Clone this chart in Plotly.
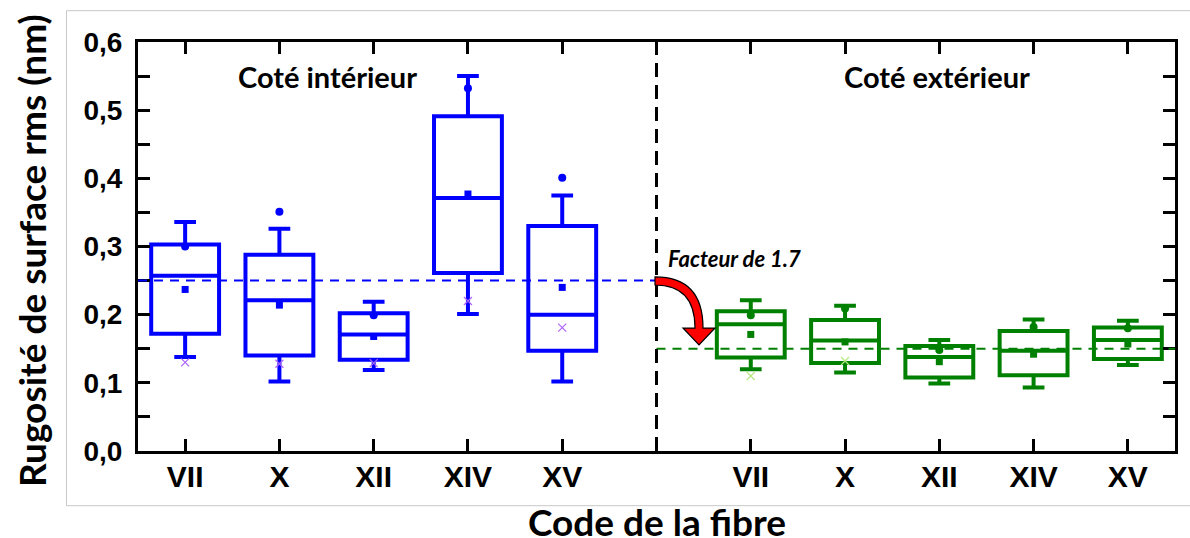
import plotly.graph_objects as go

# ---------------- data ----------------
categories = ["VII", "X", "XII", "XIV", "XV"]

int_q1 = [0.172, 0.140, 0.134, 0.261, 0.147]
int_median = [0.257, 0.221, 0.171, 0.371, 0.200]
int_q3 = [0.303, 0.288, 0.202, 0.491, 0.330]
int_low = [0.138, 0.102, 0.119, 0.201, 0.102]
int_high = [0.336, 0.326, 0.219, 0.550, 0.375]
int_mean = [0.237, 0.214, 0.168, 0.377, 0.240]
int_dot = [0.300, 0.351, 0.199, 0.532, 0.401]
int_cross = [0.130, 0.128, 0.129, 0.220, 0.181]

ext_q1 = [0.137, 0.129, 0.108, 0.111, 0.135]
ext_median = [0.186, 0.162, 0.138, 0.147, 0.163]
ext_q3 = [0.205, 0.192, 0.154, 0.176, 0.181]
ext_low = [0.120, 0.115, 0.099, 0.093, 0.126]
ext_high = [0.221, 0.213, 0.163, 0.193, 0.191]
ext_mean = [0.171, 0.160, 0.131, 0.142, 0.157]
ext_dot = [0.199, 0.209, 0.148, 0.182, 0.180]
ext_cross = [0.110, 0.132, None, None, None]

ref_interieur = 0.25
ref_exterieur = 0.15
facteur = 1.7

# ---------------- positions ----------------
x_int = [i + 1 for i in range(len(categories))]
x_div = len(categories) + 1
x_ext = [i + x_div + 1 for i in range(len(categories))]
tickvals = x_int + [x_div] + x_ext
ticktext = categories + [""] + categories

BLUE = "rgb(0,0,255)"
GREEN = "rgb(0,128,0)"

fig = go.Figure()


def add_group(xs, q1, med, q3, lo, hi, mean, dot, cross, color, cross_color):
    fig.add_trace(go.Box(
        x=xs, q1=q1, median=med, q3=q3, lowerfence=lo, upperfence=hi,
        width=0.72, whiskerwidth=0.32, boxpoints=False,
        fillcolor="rgba(0,0,0,0)", line=dict(color=color, width=4),
        showlegend=False, hoverinfo="skip"))
    fig.add_trace(go.Scatter(
        x=xs, y=mean, mode="markers", showlegend=False,
        marker=dict(symbol="square", size=7, color=color)))
    fig.add_trace(go.Scatter(
        x=xs, y=dot, mode="markers", showlegend=False,
        marker=dict(symbol="circle", size=8, color=color)))
    fig.add_trace(go.Scatter(
        x=xs, y=cross, mode="markers", showlegend=False,
        marker=dict(symbol="x-thin-open", size=8,
                    line=dict(color=cross_color, width=1.2))))


add_group(x_int, int_q1, int_median, int_q3, int_low, int_high,
          int_mean, int_dot, int_cross, BLUE, "rgba(0,0,255,0.55)")
add_group(x_ext, ext_q1, ext_median, ext_q3, ext_low, ext_high,
          ext_mean, ext_dot, ext_cross, GREEN, "rgba(0,128,0,0.55)")

XMIN, XMAX = 0.5, 11.5
YMIN, YMAX = 0.0, 0.6

# reference dashed lines
fig.add_shape(type="line", x0=XMIN, x1=x_div, y0=ref_interieur, y1=ref_interieur,
              xref="x", yref="y", line=dict(color=BLUE, width=2, dash="9px,7px"))
fig.add_shape(type="line", x0=x_div, x1=XMAX, y0=ref_exterieur, y1=ref_exterieur,
              xref="x", yref="y", line=dict(color=GREEN, width=2, dash="9px,7px"))
fig.add_shape(type="line", x0=x_div, x1=x_div, y0=YMIN, y1=YMAX,
              xref="x", yref="y", line=dict(color="black", width=3, dash="14px,8px"))

# curved arrow (annotation), defined in pixel offsets converted to data units
L, R, T, B = 138, 15, 42, 87
W, H = 1190, 538
pw, ph = W - L - R, H - T - B


def dx(px):
    return XMIN + (px - L) / pw * (XMAX - XMIN)


def dy(py):
    return YMIN + (T + ph - py) / ph * (YMAX - YMIN)


pts = [("M", 655, 277), ("Q", 703, 277, 703, 328), ("L", 715, 328), ("L", 699, 345),
       ("L", 683, 328), ("L", 695, 328), ("Q", 695, 285, 655, 285)]
path = ""
for p in pts:
    cmd = p[0]
    coords = p[1:]
    seg = cmd + " " + " ".join(
        f"{dx(coords[i]):.4f},{dy(coords[i + 1]):.4f}" for i in range(0, len(coords), 2))
    path += seg + " "
path += "Z"
fig.add_shape(type="path", path=path, xref="x", yref="y",
              fillcolor="rgb(255,0,0)", line=dict(color="black", width=1.2))


def px_x(px):
    return (px - L) / pw


def px_y(py):
    return (T + ph - py) / ph


# outer light frame
fig.add_shape(type="rect", xref="paper", yref="paper",
              x0=px_x(66.5), x1=px_x(1195),
              y0=px_y(505.7), y1=px_y(10.7),
              line=dict(color="rgb(200,200,200)", width=1), layer="below")

TITLE_FONT = "Lato, 'Open Sans', sans-serif"

fig.add_annotation(x=px_x(327), y=px_y(76), xref="paper", yref="paper",
                   xanchor="center", yanchor="middle",
                   text="Coté intérieur", showarrow=False,
                   font=dict(family=TITLE_FONT, size=29, color="black", weight="bold"))
fig.add_annotation(x=px_x(937), y=px_y(76), xref="paper", yref="paper",
                   xanchor="center", yanchor="middle",
                   text="Coté extérieur", showarrow=False,
                   font=dict(family=TITLE_FONT, size=29, color="black", weight="bold"))
fig.add_annotation(x=px_x(666), y=px_y(258), xref="paper", yref="paper",
                   xanchor="left", yanchor="middle",
                   text=f"<i>Facteur de {facteur}</i>", showarrow=False,
                   font=dict(family=TITLE_FONT, size=22, color="black", weight="bold"))
fig.add_annotation(x=px_x(657), y=px_y(521), xref="paper", yref="paper",
                   xanchor="center", yanchor="middle",
                   text="Code de la fibre", showarrow=False,
                   font=dict(family=TITLE_FONT, size=37, color="black", weight="bold"))
fig.add_annotation(x=px_x(31), y=px_y(251), xref="paper", yref="paper",
                   xanchor="center", yanchor="middle",
                   text="Rugosité de surface rms (nm)", showarrow=False, textangle=-90,
                   font=dict(family=TITLE_FONT, size=37, color="black", weight="bold"))

fig.update_layout(
    width=W, height=H,
    margin=dict(l=L, r=R, t=T, b=B, autoexpand=False),
    paper_bgcolor="white", plot_bgcolor="white",
    separators=", ",
    showlegend=False,
)
fig.update_xaxes(
    range=[XMIN, XMAX], tickmode="array", tickvals=tickvals, ticktext=ticktext,
    automargin=False,
    showgrid=False, zeroline=False, showline=True, linewidth=3, linecolor="black",
    mirror="ticks", ticks="inside", ticklen=12, tickwidth=3, tickcolor="black",
    tickfont=dict(family="'Liberation Sans', Arial", size=30,
                  color="black", weight="bold"),
    ticklabelstandoff=-3,
)
fig.update_yaxes(
    range=[YMIN, YMAX], tickvals=[0, 0.1, 0.2, 0.3, 0.4, 0.5, 0.6], tickformat=".1f",
    automargin=False,
    showgrid=False, zeroline=False, showline=True, linewidth=3, linecolor="black",
    mirror="ticks", ticks="inside", ticklen=12, tickwidth=3, tickcolor="black",
    minor=dict(dtick=0.05, ticks="inside", ticklen=12, tickwidth=3, tickcolor="black"),
    tickfont=dict(family="'Liberation Sans', Arial", size=28, color="black", weight="bold"),
    ticklabelstandoff=7,
)

fig.write_html("out.html", config={"displayModeBar": False},
               post_script="document.body.style.margin='0';document.body.style.overflow='hidden';")
